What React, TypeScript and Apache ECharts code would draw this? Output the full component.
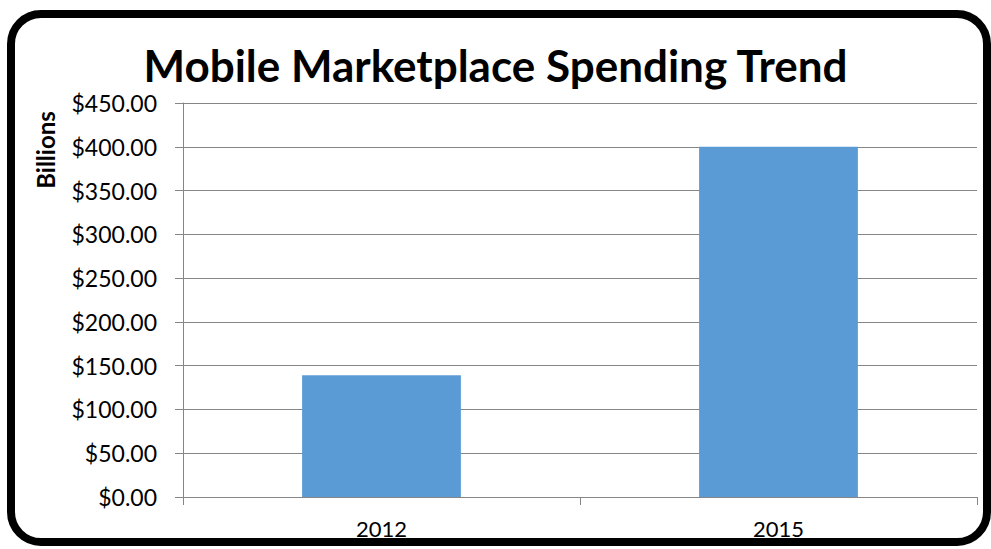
import React, { useEffect, useRef } from "react";
import * as echarts from "echarts";

const categories = ["2012", "2015"];
const spending = [139, 400];
const yTicks = { min: 0, max: 450, interval: 50 };
const titleText = "Mobile Marketplace Spending Trend";
const yAxisTitle = "Billions";

export default function App() {
  const ref = useRef<HTMLDivElement>(null);
  useEffect(() => {
    document.body.style.margin = "0";
    const chart = echarts.init(ref.current!, null, { renderer: "svg" });
    const font = "Lato, 'Open Sans', sans-serif";
    chart.setOption({
      animation: false,
      backgroundColor: "#ffffff",
      title: {
        text: titleText,
        left: "center",
        top: 38,
        textStyle: { fontFamily: font, fontWeight: "bold", fontSize: 44, color: "#000" },
      },
      grid: { left: 183, top: 103, right: 14, bottom: 52, containLabel: false },
      xAxis: {
        type: "category",
        data: categories,
        axisLine: { lineStyle: { color: "#868686", width: 1 } },
        axisTick: { show: true, length: 8, lineStyle: { color: "#868686" } },
        axisLabel: { color: "#000", fontFamily: font, fontSize: 22, margin: 20 },
      },
      yAxis: {
        type: "value",
        min: yTicks.min,
        max: yTicks.max,
        interval: yTicks.interval,
        axisLine: { show: true, lineStyle: { color: "#868686", width: 1 } },
        axisTick: { show: true, length: 8, lineStyle: { color: "#868686" } },
        splitLine: { lineStyle: { color: "#868686", width: 1 } },
        axisLabel: {
          color: "#000",
          fontFamily: font,
          fontSize: 23,
          margin: 26,
          formatter: (v: number) => "$" + v.toFixed(2),
        },
      },
      series: [
        {
          type: "bar",
          data: spending,
          barCategoryGap: "60%",
          itemStyle: { color: "#5B9BD5" },
        },
      ],
      graphic: [
        {
          type: "text",
          x: 45,
          y: 150,
          rotation: Math.PI / 2,
          style: {
            text: yAxisTitle,
            fill: "#000",
            font: "bold 24px Lato, 'Open Sans', sans-serif",
            align: "center",
            verticalAlign: "middle",
          },
        },
        {
          type: "rect",
          shape: { x: 11, y: 14, width: 976, height: 528, r: 30 },
          style: { fill: "none", stroke: "#000", lineWidth: 8 },
          z: 100,
        },
      ],
    });
    return () => chart.dispose();
  }, []);
  return (
    <div
      ref={ref}
      style={{ position: "fixed", left: 0, top: 0, width: 991, height: 549 }}
    />
  );
}
